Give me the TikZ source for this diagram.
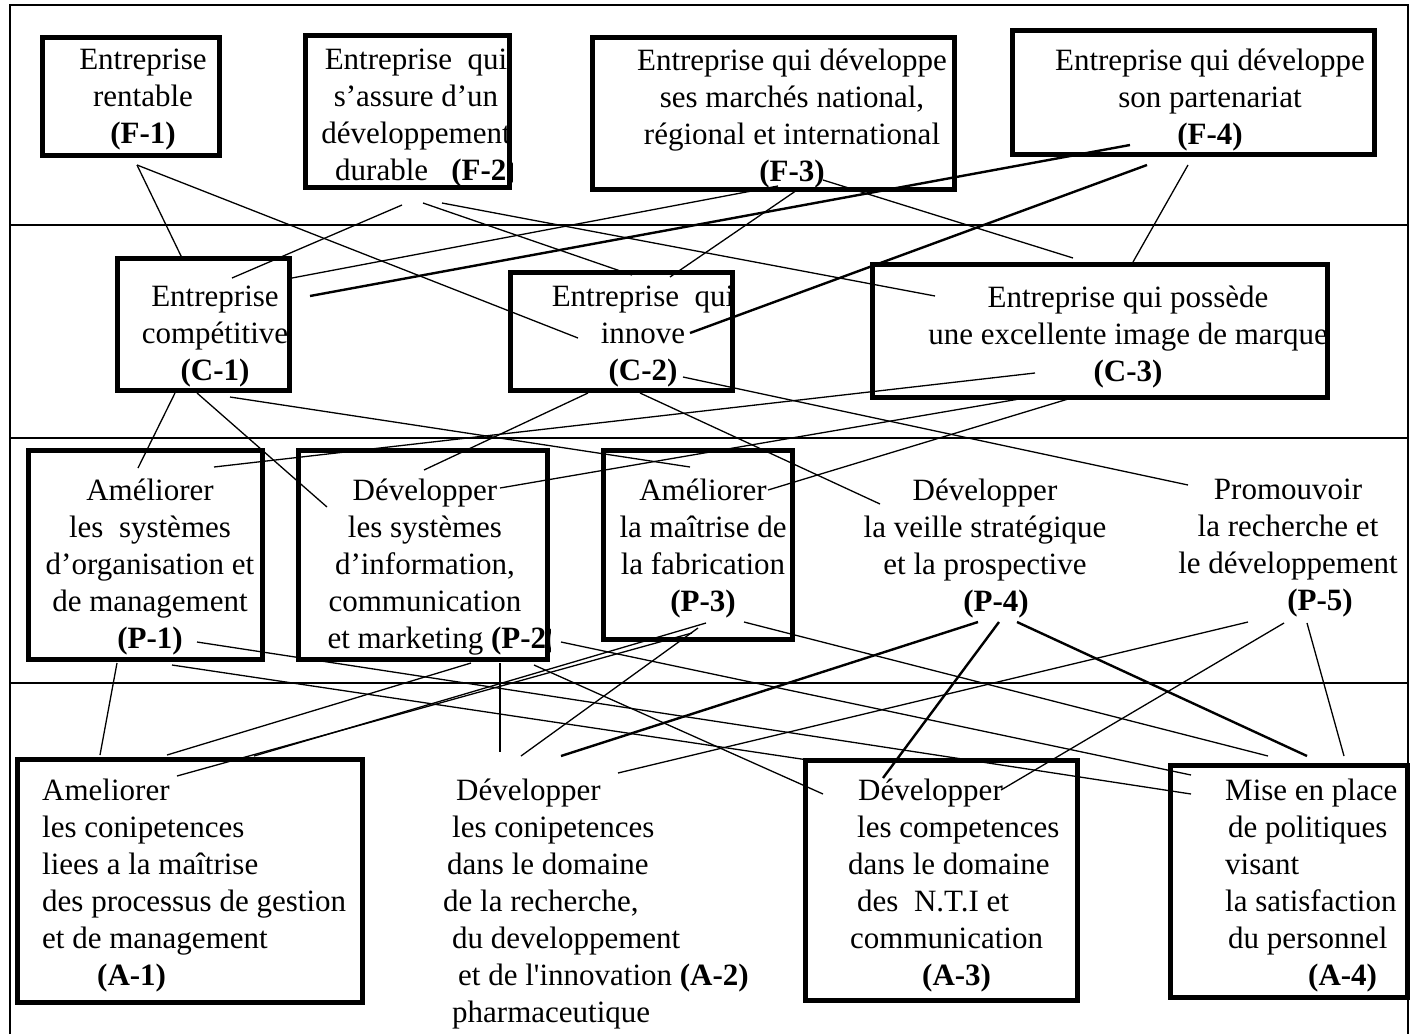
\documentclass[tikz,border=0pt]{standalone}
\usepackage{fontspec}
\setmainfont{Liberation Serif}

\tikzset{
  box/.style={draw, line width=5pt, inner sep=0pt, outer sep=2.5pt},
  txt/.style={font=\fontsize{31}{37}\selectfont, inner sep=0pt, align=center, anchor=north},
  txtl/.style={txt, align=left, anchor=north west},
  link/.style={line width=1.3pt},
  heavy/.style={line width=2.4pt},
  rule/.style={line width=1.4pt}
}

\begin{document}
\begin{tikzpicture}[x=1pt, y=-1pt]
    \useasboundingbox (0,0) rectangle (1416,1034);

    % frame and the four levels
    \draw[rule] (10,1034) -- (10,5) -- (1408,5) -- (1408,1034);
    \foreach \y in {225,438,683}
        \draw[rule] (10,\y) -- (1408,\y);

    % finalites
    \node[box, minimum width=177pt, minimum height=118pt] (bF1) at (131,96.5) {};
    \node[box, minimum width=204pt, minimum height=152pt] (bF2) at (407.5,111.5) {};
    \node[box, minimum width=362pt, minimum height=152pt] (bF3) at (773.5,113.5) {};
    \node[box, minimum width=362pt, minimum height=124pt] (bF4) at (1193.5,92.5) {};
    \node[txt] (F1) at (143,49) {Entreprise\\rentable\\\textbf{(F-1)}};
    \begin{scope}
        \clip (bF2.south west) rectangle (bF2.north east);
        \node[txt] (F2) at (416,49) {Entreprise\ \ qui\\s’assure d’un\\développement\\\hspace*{20pt}durable\ \ \ \textbf{(F-2)}};
    \end{scope}
    \node[txt] (F3) at (792,49) {Entreprise qui développe\\ses marchés national,\\régional et international\\\textbf{(F-3)}};
    \node[txt] (F4) at (1210,49) {Entreprise qui développe\\son partenariat\\\textbf{(F-4)}};

    % criteres
    \node[box, minimum width=172pt, minimum height=132pt] (bC1) at (203.5,324.5) {};
    \node[box, minimum width=222pt, minimum height=118pt] (bC2) at (621.5,331.5) {};
    \node[box, minimum width=455pt, minimum height=133pt] (bC3) at (1100,331) {};
    \node[txt] (C1) at (215,286) {Entreprise\\compétitive\\\textbf{(C-1)}};
    \node[txt] (C2) at (643,286) {Entreprise\ \ qui\\innove\\\textbf{(C-2)}};
    \node[txt] (C3) at (1128,286) {Entreprise qui possède\\une excellente image de marque\\\textbf{(C-3)}};

    % processus
    \node[box, minimum width=234pt, minimum height=209pt] (bP1) at (145.5,555) {};
    \node[box, minimum width=249pt, minimum height=209pt] (bP2) at (423,555) {};
    \node[box, minimum width=189pt, minimum height=189pt] (bP3) at (698,545) {};
    \node[txt] (P1) at (150,479) {Améliorer\\les\ \ systèmes\\d’organisation et\\de management\\\textbf{(P-1)}};
    \begin{scope}
        \clip (bP2.south west) rectangle (bP2.north east);
        \node[txt] (P2) at (425,479) {Développer\\les systèmes\\d’information,\\communication\\\hspace*{34pt}et marketing \textbf{(P-2)}};
    \end{scope}
    \node[txt] (P3) at (703,479) {Améliorer\\la maîtrise de\\la fabrication\\\textbf{(P-3)}};
    \node[txt] (P4) at (985,479) {Développer\\la veille stratégique\\et la prospective\\\hspace*{22pt}\textbf{(P-4)}};
    \node[txt] (P5) at (1288,479) {Promouvoir\\la recherche et\\le développement\\\hspace*{64pt}\textbf{(P-5)}};

    % actions
    \node[box, minimum width=345pt, minimum height=243pt] (bA1) at (190,881) {};
    \node[box, minimum width=272pt, minimum height=240pt] (bA3) at (941.5,880.5) {};
    \node[box, minimum width=237pt, minimum height=232pt] (bA4) at (1289,881.5) {};
    \node[txtl] (A1) at (42,779) {Ameliorer\\les conipetences\\liees a la maîtrise\\des processus de gestion\\et de management\\\hspace*{55pt}\textbf{(A-1)}};
    \node[txtl] (A2) at (443,779) {\hspace*{13pt}Développer\\\hspace*{9pt}les conipetences\\\hspace*{4pt}dans le domaine\\de la recherche,\\\hspace*{9pt}du developpement\\\hspace*{15pt}et de l\textquotesingle innovation \textbf{(A-2)}\\\hspace*{9pt}pharmaceutique};
    \node[txtl] (A3) at (848,779) {\hspace*{10pt}Développer\\\hspace*{9pt}les competences\\dans le domaine\\\hspace*{9pt}des\ \ N.T.I et\\\hspace*{2pt}communication\\\hspace*{74pt}\textbf{(A-3)}};
    \node[txtl] (A4) at (1225,779) {Mise en place\\\hspace*{3pt}de politiques\\visant\\la satisfaction\\\hspace*{3pt}du personnel\\\hspace*{83pt}\textbf{(A-4)}};

    % finalites -> criteres
    \draw[link] ([shift={(6,68.5)}]bF1.center) -- ([shift={(-21.5,-66.5)}]bC1.center);
    \draw[link] ([shift={(6,68.5)}]bF1.center) -- ([shift={(-43.5,6.5)}]bC2.center);
    \draw[link] ([shift={(-5.5,93.5)}]bF2.center) -- ([shift={(28.5,-46.5)}]bC1.center);
    \draw[link] ([shift={(15.5,91.5)}]bF2.center) -- ([shift={(10.5,-56.5)}]bC2.center);
    \draw[link] ([shift={(34.5,91.5)}]bF2.center) -- ([shift={(-165,-35)}]bC3.center);
    \draw[link] ([shift={(4.5,72.5)}]bF3.center) -- ([shift={(88.5,-46.5)}]bC1.center);
    \draw[link] ([shift={(26.5,74.5)}]bF3.center) -- ([shift={(48.5,-54.5)}]bC2.center);
    \draw[link] ([shift={(49.5,66.5)}]bF3.center) -- ([shift={(-27,-73)}]bC3.center);
    \draw[heavy] ([shift={(-63.5,52.5)}]bF4.center) -- ([shift={(106.5,-28.5)}]bC1.center);
    \draw[heavy] ([shift={(-46.5,72.5)}]bF4.center) -- ([shift={(68.5,1.5)}]bC2.center);
    \draw[link] ([shift={(-5.5,72.5)}]bF4.center) -- ([shift={(33,-69)}]bC3.center);

    % criteres -> processus
    \draw[link] ([shift={(-28.5,68.5)}]bC1.center) -- ([shift={(-7.5,-87)}]bP1.center);
    \draw[link] ([shift={(-6.5,68.5)}]bC1.center) -- ([shift={(-96,-48)}]bP2.center);
    \draw[link] ([shift={(26.5,72.5)}]bC1.center) -- ([shift={(-8,-78)}]bP3.center);
    \draw[link] ([shift={(-33.5,61.5)}]bC2.center) -- ([shift={(1,-85)}]bP2.center);
    \draw[link] ([shift={(18.5,61.5)}]bC2.center) -- ([shift={(-105,25)}]P4.north);
    \draw[link] ([shift={(61.5,45.5)}]bC2.center) -- ([shift={(-100,6)}]P5.north);
    \draw[link] ([shift={(-65,42)}]bC3.center) -- ([shift={(68.5,-88)}]bP1.center);
    \draw[link] ([shift={(-75,67)}]bC3.center) -- ([shift={(77,-67)}]bP2.center);
    \draw[link] ([shift={(-22,65)}]bC3.center) -- ([shift={(70,-55)}]bP3.center);

    % processus -> actions
    \draw[link] ([shift={(-28.5,108)}]bP1.center) -- ([shift={(-90,-126)}]bA1.center);
    \draw[link] ([shift={(51.5,87)}]bP1.center) -- ([shift={(-98,-87.5)}]bA4.center);
    \draw[link] ([shift={(26.5,110)}]bP1.center) -- ([shift={(-133.5,-120.5)}]bA3.center);
    \draw[link] ([shift={(48,108)}]bP2.center) -- ([shift={(-23,-126)}]bA1.center);
    \draw[link] ([shift={(77,108)}]bP2.center) -- ([shift={(57,-27)}]A2.north west);
    \draw[link] ([shift={(138,87)}]bP2.center) -- ([shift={(-98,-106.5)}]bA4.center);
    \draw[link] ([shift={(111,110)}]bP2.center) -- ([shift={(-118.5,-86.5)}]bA3.center);
    \draw[link] ([shift={(8,78)}]bP3.center) -- ([shift={(64,-125)}]bA1.center);
    \draw[link] ([shift={(-6,88)}]bP3.center) -- ([shift={(-13,-105)}]bA1.center);
    \draw[link] ([shift={(0,83)}]bP3.center) -- ([shift={(78,-23)}]A2.north west);
    \draw[link] ([shift={(46,77)}]bP3.center) -- ([shift={(-21,-125.5)}]bA4.center);
    \draw[heavy] ([shift={(-7,143)}]P4.north) -- ([shift={(118,-23)}]A2.north west);
    \draw[heavy] ([shift={(14,143)}]P4.north) -- ([shift={(-58.5,-102.5)}]bA3.center);
    \draw[heavy] ([shift={(32,143)}]P4.north) -- ([shift={(18,-125.5)}]bA4.center);
    \draw[link] ([shift={(-40,143)}]P5.north) -- ([shift={(175,-6)}]A2.north west);
    \draw[link] ([shift={(-4,144)}]P5.north) -- ([shift={(59.5,-90.5)}]bA3.center);
    \draw[link] ([shift={(19,144)}]P5.north) -- ([shift={(55,-125.5)}]bA4.center);
\end{tikzpicture}
\end{document}
